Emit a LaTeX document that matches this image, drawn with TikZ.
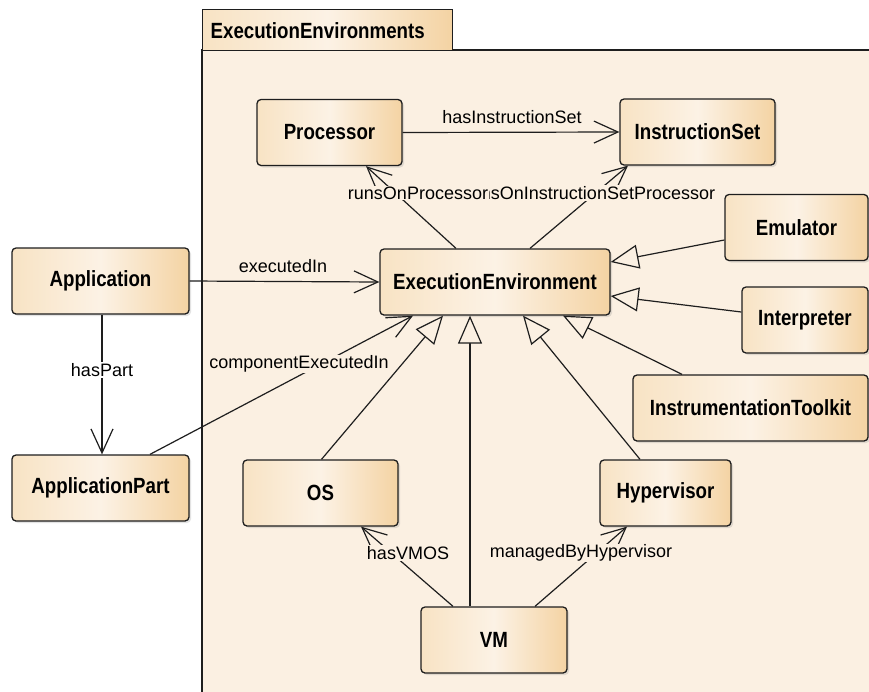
\documentclass[tikz,border=0pt]{standalone}
\usepackage{fontspec}
\setmainfont{Liberation Sans}
\newfontfamily\clsfont[FakeStretch=0.85]{Liberation Sans}
\usetikzlibrary{arrows.meta,shadows}

\definecolor{pkgbg}{HTML}{FBF0E2}
\definecolor{boxl}{HTML}{F8E3C4}
\definecolor{boxm}{HTML}{FCF2E5}
\definecolor{boxr}{HTML}{F4D3A3}
\definecolor{ink}{HTML}{1E1E1E}

\begin{document}
\begin{tikzpicture}[x=1pt,y=-1pt,
  cls/.style={draw=ink, line width=1.3pt, rounded corners=4pt,
    left color=boxl, right color=boxr, middle color=boxm,
    drop shadow={shadow xshift=2pt,shadow yshift=-2pt,opacity=0.22},
    minimum height=66pt, inner sep=0pt,
    font=\clsfont\fontsize{22}{24}\selectfont\bfseries},
  tabbox/.style={draw=ink, line width=1.3pt,
    left color=boxl, right color=boxr, middle color=boxm,
    minimum height=41pt, inner xsep=8pt, inner ysep=0pt, align=left,
    font=\clsfont\fontsize{22}{24}\selectfont\bfseries},
  assoc/.style={draw=ink, line width=1.2pt,
    -{Straight Barb[length=24pt,width=22pt,line width=1.2pt]}},
  gen/.style={draw=ink, line width=1.2pt,
    -{Triangle[length=28pt,width=24pt,fill=pkgbg,line width=1.2pt]}},
  lbl/.style={font=\fontsize{18}{20}\selectfont, inner sep=1pt, fill=pkgbg},
  lblw/.style={lbl, fill=white},
  lbln/.style={font=\fontsize{18}{20}\selectfont, inner sep=1pt}
]
\useasboundingbox (0,0) rectangle (869,691);
\fill[white] (0,0) rectangle (869,691);

% package frame
\fill[pkgbg] (202,50) rectangle (880,700);
\draw[ink, line width=1.3pt] (202,700) -- (202,50) -- (880,50);
\node[tabbox, anchor=north west, text width=234pt] (pkgtab) at (202,9) {ExecutionEnvironments};

% classes
\node[cls, minimum width=145pt] (proc)   at (329.5,132.5) {Processor};
\node[cls, minimum width=155pt] (iset)   at (697.5,132)   {InstructionSet};
\node[cls, minimum width=143pt] (emu)    at (796.5,227.5) {Emulator};
\node[cls, minimum width=230pt] (ee)     at (495,282)     {ExecutionEnvironment};
\node[cls, minimum width=126pt] (interp) at (805,320)     {Interpreter};
\node[cls, minimum width=235pt] (itk)    at (750.5,408)   {InstrumentationToolkit};
\node[cls, minimum width=177pt] (app)    at (100.5,281)   {Application};
\node[cls, minimum width=177pt] (apart)  at (100.5,488)   {ApplicationPart};
\node[cls, minimum width=155pt] (os)     at (320.5,493)   {OS};
\node[cls, minimum width=131pt] (hyp)    at (665.5,493)   {Hypervisor};
\node[cls, minimum width=146pt] (vm)     at (494,640)     {VM};

% associations
\draw[assoc] (proc.east) -- (iset.west);
\draw[assoc] ([xshift=-39pt]ee.north) -- ([xshift=36.5pt]proc.south);
\draw[assoc] ([xshift=35pt]ee.north) -- ([xshift=-69.5pt]iset.south);
\draw[assoc] (app.east) -- (ee.west);
\draw[assoc] ([xshift=1.5pt]app.south) -- ([xshift=1.5pt]apart.north);
\draw[assoc] ([xshift=49.5pt]apart.north) -- ([xshift=-82pt]ee.south);
\draw[assoc] ([xshift=-41pt]vm.north) -- ([xshift=40.5pt]os.south);
\draw[assoc] ([xshift=41pt]vm.north) -- ([xshift=-38.5pt]hyp.south);

% generalizations
\draw[gen] ([xshift=1pt]os.north) -- ([xshift=-52pt]ee.south);
\draw[gen] ([xshift=-24pt]vm.north) -- ([xshift=-25pt]ee.south);
\draw[gen] ([xshift=-25.5pt]hyp.north) -- ([xshift=28pt]ee.south);
\draw[gen] ([xshift=-68.5pt]itk.north) -- ([xshift=68pt]ee.south);
\draw[gen] ([yshift=8pt]interp.west) -- ([yshift=-14pt]ee.east);
\draw[gen] ([yshift=-12.5pt]emu.west) -- ([yshift=20pt]ee.east);

% association labels (the second role name sits partly under the first)
\node[lbln] (l-hasis) at (512,117) {hasInstructionSet};
\node[lbl]  (l-risp)  at (590,193) {runsOnInstructionSetProcessor};
\node[lbl]  (l-rop)   at (418,193) {runsOnProcessor};
\node[lbln] (l-exin)  at (283,266) {executedIn};
\node[lblw] (l-part)  at (102,370) {hasPart};
\node[lbl]  (l-cexin) at (299,364) {componentExecutedIn};
\node[lbl]  (l-vmos)  at (408,553) {hasVMOS};
\node[lbl]  (l-mbh)   at (581,553) {managedByHypervisor};
\end{tikzpicture}
\end{document}
